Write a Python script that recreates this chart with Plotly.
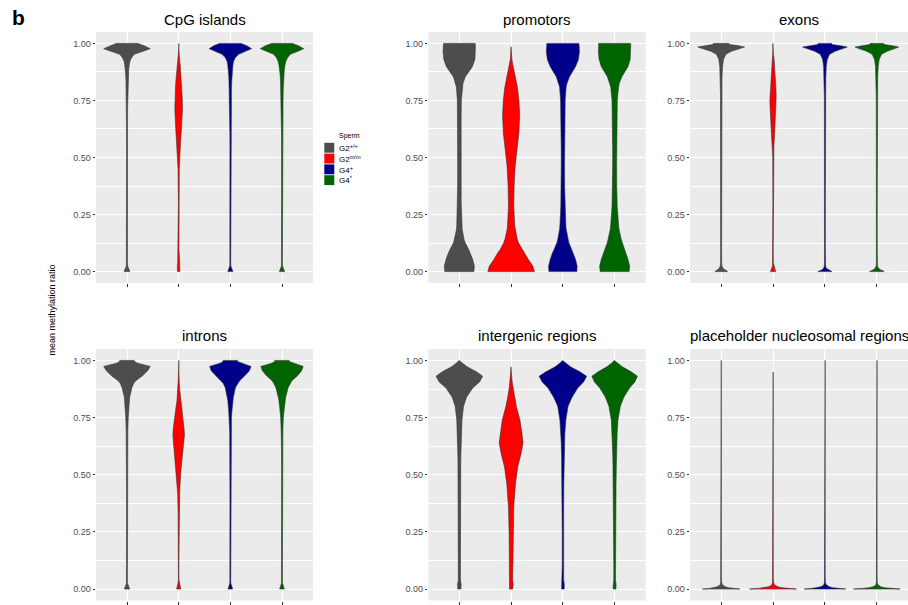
import plotly.graph_objects as go

# ---------------------------------------------------------------------------
# Data: sperm methylation violins, one panel per genomic feature.
# Each violin is a density profile: methylation level -> half width
# (in category units).  None marks levels outside the observed range.
# ---------------------------------------------------------------------------
groups = ["G2+/+", "G2m/m", "G4+", "G4*"]
group_labels = ["G2<sup>+/+</sup>", "G2<sup>m/m</sup>", "G4<sup>+</sup>", "G4<sup>*</sup>"]
group_colors = ["#4D4D4D", "#FF0000", "#00008B", "#006400"]
legend_title = "Sperm"
y_title = "mean methylation ratio"
panel_letter = "b"
ratio_ticks = [0.0, 0.25, 0.5, 0.75, 1.0]
ratio_minor = [0.125, 0.375, 0.625, 0.875]

regions = ["CpG islands", "promotors", "exons",
           "introns", "intergenic regions", "placeholder nucleosomal regions"]

cpg_levels = [0, 0.012, 0.024, 0.04, 0.1, 0.3, 0.45, 0.52, 0.6, 0.65, 0.71, 0.75,
              0.8, 0.83, 0.86, 0.886, 0.905, 0.923, 0.938, 0.952, 0.965, 0.977, 0.99, 1.0]
cpg_widths = {
    "G2+/+": [0.055, 0.035, 0.012, 0.009, 0.008, 0.008, 0.008, 0.008, 0.009, 0.01, 0.011, 0.013,
              0.016, 0.019, 0.024, 0.032, 0.042, 0.058, 0.09, 0.14, 0.3, 0.45, 0.33, 0.21],
    "G2m/m": [0.024, 0.026, 0.025, 0.018, 0.005, 0.005, 0.012, 0.026, 0.048, 0.062, 0.074, 0.072,
              0.062, 0.056, 0.048, 0.038, 0.03, 0.02, 0.012, 0.006, 0.004, 0.003, 0.003, 0.003],
    "G4+":   [0.05, 0.03, 0.01, 0.008, 0.008, 0.008, 0.008, 0.008, 0.009, 0.01, 0.014, 0.018,
              0.022, 0.026, 0.032, 0.04, 0.05, 0.065, 0.1, 0.16, 0.3, 0.41, 0.32, 0.21],
    "G4*":   [0.05, 0.03, 0.01, 0.008, 0.008, 0.008, 0.008, 0.008, 0.009, 0.01, 0.012, 0.02,
              0.024, 0.028, 0.035, 0.045, 0.058, 0.077, 0.11, 0.16, 0.3, 0.42, 0.32, 0.2],
}

promotor_levels = [0, 0.024, 0.054, 0.083, 0.097, 0.127, 0.141, 0.185, 0.2, 0.286, 0.316, 0.374,
                   0.461, 0.534, 0.607, 0.687, 0.752, 0.81, 0.825, 0.854, 0.898, 0.93, 0.963, 0.985, 1.0]
promotor_widths = {
    "G2+/+": [0.28, 0.29, 0.256, 0.21, 0.18, 0.11, 0.09, 0.055, 0.05, 0.037, 0.035, 0.033,
              0.032, 0.032, 0.032, 0.034, 0.038, 0.058, 0.07, 0.115, 0.25, 0.3, 0.314, 0.31, 0.305],
    "G2m/m": [0.45, 0.42, 0.33, 0.256, 0.21, 0.14, 0.12, 0.077, 0.07, 0.051, 0.052, 0.058,
              0.077, 0.11, 0.15, 0.165, 0.15, 0.12, 0.11, 0.08, 0.04, 0.015, 0.006, 0.002, None],
    "G4+":   [0.27, 0.276, 0.244, 0.2, 0.17, 0.115, 0.1, 0.065, 0.058, 0.04, 0.038, 0.034,
              0.032, 0.032, 0.033, 0.037, 0.045, 0.064, 0.08, 0.128, 0.244, 0.3, 0.32, 0.315, 0.31],
    "G4*":   [0.28, 0.29, 0.256, 0.215, 0.19, 0.14, 0.128, 0.085, 0.077, 0.05, 0.045, 0.04,
              0.038, 0.038, 0.038, 0.044, 0.051, 0.077, 0.09, 0.14, 0.256, 0.3, 0.314, 0.31, 0.31],
}

exon_levels = [0, 0.004, 0.008, 0.015, 0.025, 0.04, 0.1, 0.3, 0.5, 0.55, 0.6, 0.65, 0.7,
               0.75, 0.77, 0.8, 0.85, 0.9, 0.93, 0.952, 0.966, 0.975, 0.984, 0.99, 0.995, 1.0]
exon_widths = {
    "G2+/+": [0.12, 0.11, 0.07, 0.035, 0.015, 0.01, 0.009, 0.009, 0.009, 0.009, 0.01, 0.01, 0.011,
              0.012, 0.012, 0.013, 0.016, 0.026, 0.045, 0.09, 0.2, 0.33, 0.45, 0.33, 0.16, 0.15],
    "G2m/m": [0.05, 0.045, 0.04, 0.025, 0.01, 0.005, 0.004, 0.004, 0.006, 0.016, 0.03, 0.042, 0.053,
              0.061, 0.06, 0.056, 0.045, 0.032, 0.02, 0.008, 0.004, 0.003, 0.003, 0.003, 0.003, 0.003],
    "G4+":   [0.135, 0.11, 0.06, 0.025, 0.012, 0.009, 0.008, 0.008, 0.008, 0.008, 0.009, 0.009, 0.01,
              0.011, 0.012, 0.013, 0.016, 0.026, 0.045, 0.09, 0.2, 0.32, 0.43, 0.3, 0.14, 0.13],
    "G4*":   [0.14, 0.12, 0.07, 0.03, 0.012, 0.009, 0.008, 0.008, 0.008, 0.008, 0.009, 0.009, 0.01,
              0.011, 0.012, 0.013, 0.016, 0.026, 0.045, 0.09, 0.2, 0.32, 0.42, 0.3, 0.14, 0.13],
}

intron_levels = [0, 0.012, 0.025, 0.04, 0.1, 0.25, 0.33, 0.418, 0.506, 0.593, 0.64, 0.673, 0.7,
                 0.753, 0.78, 0.826, 0.838, 0.882, 0.9, 0.911, 0.933, 0.955, 0.974, 0.988, 0.995, 1.0]
intron_widths = {
    "G2+/+": [0.05, 0.03, 0.01, 0.008, 0.008, 0.008, 0.008, 0.008, 0.009, 0.01, 0.012, 0.014, 0.016,
              0.024, 0.032, 0.045, 0.05, 0.096, 0.13, 0.17, 0.3, 0.4, 0.45, 0.2, 0.145, 0.14],
    "G2m/m": [0.04, 0.03, 0.012, 0.005, 0.004, 0.005, 0.01, 0.019, 0.038, 0.077, 0.1, 0.112, 0.105,
              0.077, 0.06, 0.032, 0.028, 0.016, 0.012, 0.008, 0.005, 0.004, 0.003, 0.003, 0.003, 0.003],
    "G4+":   [0.045, 0.028, 0.01, 0.008, 0.008, 0.008, 0.008, 0.008, 0.008, 0.008, 0.01, 0.012, 0.015,
              0.022, 0.032, 0.05, 0.058, 0.1, 0.14, 0.18, 0.28, 0.37, 0.4, 0.2, 0.14, 0.14],
    "G4*":   [0.045, 0.028, 0.01, 0.008, 0.008, 0.008, 0.008, 0.008, 0.008, 0.009, 0.011, 0.013, 0.017,
              0.026, 0.038, 0.06, 0.07, 0.12, 0.16, 0.19, 0.3, 0.38, 0.41, 0.2, 0.14, 0.14],
}

intergenic_levels = [0, 0.01, 0.02, 0.04, 0.1, 0.24, 0.36, 0.46, 0.535, 0.59, 0.64,
                     0.68, 0.74, 0.8, 0.84, 0.88, 0.906, 0.931, 0.95, 0.972, 0.99, 1.0]
intergenic_widths = {
    "G2+/+": [0.03, 0.038, 0.035, 0.02, 0.019, 0.019, 0.02, 0.023, 0.026, 0.029, 0.032,
              0.038, 0.05, 0.08, 0.14, 0.26, 0.39, 0.45, 0.33, 0.15, 0.05, 0.005],
    "G2m/m": [0.03, 0.04, 0.04, 0.03, 0.032, 0.038, 0.051, 0.083, 0.128, 0.19, 0.23,
              0.21, 0.17, 0.1, 0.065, 0.035, 0.02, 0.012, 0.008, 0.003, None, None],
    "G4+":   [0.025, 0.03, 0.028, 0.015, 0.013, 0.013, 0.015, 0.018, 0.022, 0.026, 0.032,
              0.038, 0.058, 0.1, 0.18, 0.29, 0.4, 0.46, 0.33, 0.15, 0.05, 0.005],
    "G4*":   [0.025, 0.03, 0.028, 0.016, 0.016, 0.018, 0.022, 0.027, 0.032, 0.036, 0.042,
              0.048, 0.064, 0.11, 0.18, 0.29, 0.39, 0.44, 0.32, 0.15, 0.05, 0.005],
}

nucleosomal_levels = [0, 0.003, 0.006, 0.01, 0.015, 0.02, 0.03, 0.05, 0.2, 0.5, 0.8, 0.95, 1.0]
nucleosomal_widths = {
    "G2+/+": [0.36, 0.22, 0.14, 0.08, 0.04, 0.02, 0.009, 0.005, 0.004, 0.004, 0.004, 0.004, 0.003],
    "G2m/m": [0.45, 0.28, 0.17, 0.09, 0.045, 0.022, 0.01, 0.005, 0.004, 0.004, 0.004, 0.003, None],
    "G4+":   [0.4, 0.25, 0.15, 0.085, 0.042, 0.02, 0.009, 0.005, 0.004, 0.004, 0.004, 0.004, 0.003],
    "G4*":   [0.45, 0.27, 0.15, 0.075, 0.035, 0.018, 0.008, 0.005, 0.004, 0.004, 0.004, 0.004, 0.003],
}

profiles = [
    (cpg_levels, cpg_widths),
    (promotor_levels, promotor_widths),
    (exon_levels, exon_widths),
    (intron_levels, intron_widths),
    (intergenic_levels, intergenic_widths),
    (nucleosomal_levels, nucleosomal_widths),
]

# ---------------------------------------------------------------------------
# Layout geometry (pixels on a 908 x 605 canvas)
# ---------------------------------------------------------------------------
W, H = 908, 605


def px(x):
    return x / W


def py(y):
    return 1 - y / H


col_px = [(96, 313), (428.3, 645.7), (690, 908)]
row_px = [(32, 283), (349, 600.5)]
title_y_px = [19, 335]

FONT = "Liberation Sans, Arial, Helvetica, sans-serif"
OUTLINE = "#333333"
PANEL_BG = "#EBEBEB"


def violin_outline(center, levels, halfwidths):
    pts = [(lv, hw) for lv, hw in zip(levels, halfwidths) if hw is not None]
    ys = [p[0] for p in pts]
    right = [center + p[1] for p in pts]
    left = [center - p[1] for p in pts]
    xs = right + left[::-1] + [right[0]]
    yy = ys + ys[::-1] + [ys[0]]
    return xs, yy


fig = go.Figure()
layout = dict(
    width=W, height=H, autosize=False,
    margin=dict(l=0, r=0, t=0, b=0),
    paper_bgcolor="white", plot_bgcolor=PANEL_BG,
    showlegend=False,
    font=dict(family=FONT, size=9, color="black"),
    annotations=[], shapes=[],
)

for i, (region, (levels, widths)) in enumerate(zip(regions, profiles)):
    n = i + 1
    r, c = divmod(i, 3)
    xk = "xaxis" if n == 1 else f"xaxis{n}"
    yk = "yaxis" if n == 1 else f"yaxis{n}"
    xref = "x" if n == 1 else f"x{n}"
    yref = "y" if n == 1 else f"y{n}"

    for k, g in enumerate(groups):
        xs, ys = violin_outline(k + 1, levels, widths[g])
        fig.add_trace(go.Scatter(
            x=xs, y=ys, mode="lines", fill="toself",
            fillcolor=group_colors[k],
            line=dict(color=OUTLINE, width=0.6),
            hoverinfo="skip", showlegend=False,
            xaxis=xref, yaxis=yref,
        ))

    x0, x1 = col_px[c]
    ytop, ybot = row_px[r]
    layout[xk] = dict(
        domain=[px(x0), px(x1)], anchor=yref,
        range=[0.4, 4.6], tickvals=[1, 2, 3, 4], showticklabels=False,
        ticks="outside", ticklen=3, tickwidth=0.6, tickcolor=OUTLINE,
        showgrid=True, gridcolor="white", gridwidth=1.1,
        zeroline=False, showline=False, fixedrange=True,
    )
    layout[yk] = dict(
        domain=[py(ybot), py(ytop)], anchor=xref,
        range=[-0.05, 1.05], tickvals=ratio_ticks, tickformat=".2f",
        ticks="outside", ticklen=2.5, tickwidth=0.6, tickcolor=OUTLINE,
        tickfont=dict(size=9, color="#4D4D4D", family=FONT),
        showgrid=True, gridcolor="white", gridwidth=1.1,
        minor=dict(tickvals=ratio_minor, showgrid=True, gridcolor="white",
                   gridwidth=0.5, ticks=""),
        zeroline=False, showline=False, fixedrange=True,
    )
    layout["annotations"].append(dict(
        text=region, xref="paper", yref="paper",
        x=px((x0 + x1) / 2), y=py(title_y_px[r]),
        xanchor="center", yanchor="middle", showarrow=False,
        font=dict(size=15, color="black", family=FONT),
    ))

# panel letter and shared y title
layout["annotations"].append(dict(
    text=f"<b>{panel_letter}</b>", xref="paper", yref="paper",
    x=px(10), y=py(17), xanchor="left", yanchor="middle", showarrow=False,
    font=dict(size=21, color="black", family=FONT),
))
layout["annotations"].append(dict(
    text=y_title, xref="paper", yref="paper", textangle=-90,
    x=px(51.5), y=py(310), xanchor="center", yanchor="middle", showarrow=False,
    font=dict(size=9, color="black", family=FONT),
))

# legend: title, coloured keys and labels
key_left, key_w, row_top, row_h = 324.3, 10, 142.5, 10.8
layout["annotations"].append(dict(
    text=legend_title, xref="paper", yref="paper",
    x=px(336.5), y=py(136), xanchor="left", yanchor="middle", showarrow=False,
    font=dict(size=7, color="black", family=FONT),
))
for k, (lab, col) in enumerate(zip(group_labels, group_colors)):
    top = row_top + k * row_h
    layout["shapes"].append(dict(
        type="rect", xref="paper", yref="paper",
        x0=px(key_left), x1=px(key_left + key_w),
        y0=py(top + row_h - 0.6), y1=py(top + 0.3),
        fillcolor=col, line=dict(width=0),
    ))
    layout["annotations"].append(dict(
        text=lab, xref="paper", yref="paper",
        x=px(337), y=py(top + row_h / 2), xanchor="left", yanchor="middle",
        showarrow=False, font=dict(size=8, color="black", family=FONT),
    ))

fig.update_layout(**layout)
fig.write_html("out.html")
